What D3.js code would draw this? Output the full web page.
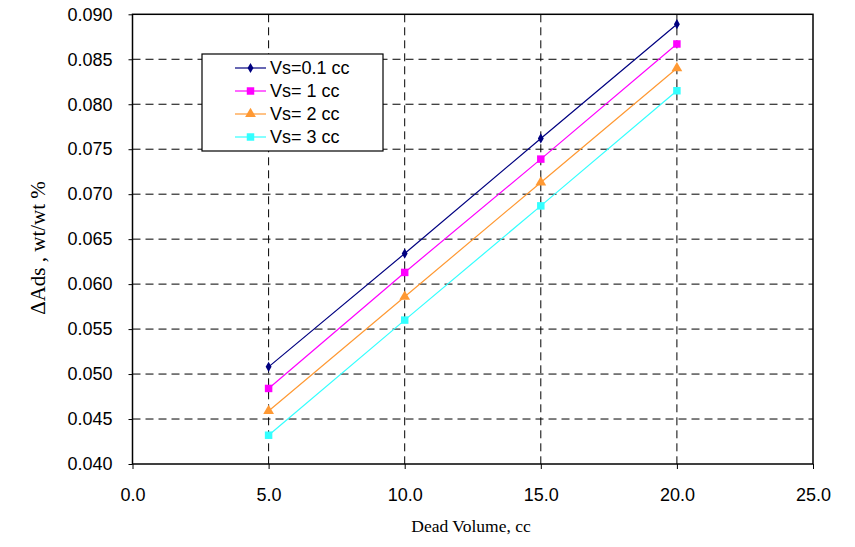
<!DOCTYPE html>
<html><head><meta charset="utf-8">
<script src="https://cdn.jsdelivr.net/npm/d3@7"></script>
<style>body{margin:0;background:#fff}svg{display:block}</style>
</head><body>
<svg id="c" width="855" height="547"></svg>
<script>
const deadVolume = [5, 10, 15, 20];
const seriesNames = ["Vs=0.1 cc", "Vs= 1 cc", "Vs= 2 cc", "Vs= 3 cc"];
const vs01 = [0.0508, 0.0634, 0.0762, 0.0889];
const vs1  = [0.0484, 0.0613, 0.0739, 0.0867];
const vs2  = [0.0459, 0.0586, 0.0713, 0.0840];
const vs3  = [0.0432, 0.0560, 0.0687, 0.0815];
const xTicks = [0, 5, 10, 15, 20, 25];
const yTicks = [0.040, 0.045, 0.050, 0.055, 0.060, 0.065, 0.070, 0.075, 0.080, 0.085, 0.090];

const colors = ["#000080", "#ff00ff", "#ff9933", "#33ffff"];
const symbols = [d3.symbolDiamond, d3.symbolSquare, d3.symbolTriangle, d3.symbolSquare];
const symSizes = [30, 56, 50, 56];
const series = [vs01, vs1, vs2, vs3];

const svg = d3.select("#c");
const L = 132.5, R = 813, T = 14.3, B = 464;
const x = d3.scaleLinear().domain([0, 25]).range([L, R]);
const y = d3.scaleLinear().domain([0.040, 0.090]).range([B, T]);
const sans = "Arial, 'Liberation Sans', sans-serif";
const serif = "'Times New Roman', 'Liberation Serif', serif";

// gridlines
const g = svg.append("g");
g.selectAll(".hg").data(yTicks.slice(1, -1)).enter().append("line")
  .attr("x1", L).attr("x2", R).attr("y1", d => y(d)).attr("y2", d => y(d))
  .attr("stroke", "#000").attr("stroke-width", 1).attr("stroke-dasharray", "8,5");
g.selectAll(".vg").data(xTicks.slice(1, -1)).enter().append("line")
  .attr("y1", T).attr("y2", B).attr("x1", d => x(d)).attr("x2", d => x(d))
  .attr("stroke", "#000").attr("stroke-width", 1).attr("stroke-dasharray", "8,5");

// axes
const yAxis = d3.axisLeft(y).tickValues(yTicks).tickFormat(d3.format(".3f")).tickSize(4).tickPadding(16);
const xAxis = d3.axisBottom(x).tickValues(xTicks).tickFormat(d3.format(".1f")).tickSize(5).tickPadding(19);
const ya = svg.append("g").attr("transform", `translate(${L},0)`).call(yAxis);
const xa = svg.append("g").attr("transform", `translate(0,${B})`).call(xAxis);
[ya, xa].forEach(a => {
  a.select(".domain").remove();
  a.selectAll("text").attr("font-family", sans).attr("font-size", 18).attr("fill", "#000");
  a.selectAll("line").attr("stroke", "#000");
});
// plot frame
svg.append("rect").attr("x", L).attr("y", T).attr("width", R - L).attr("height", B - T)
  .attr("fill", "none").attr("stroke", "#000").attr("stroke-width", 1.5);

// series
const line = d3.line().x((d, i) => x(deadVolume[i])).y(d => y(d));
series.forEach((s, k) => {
  svg.append("path").datum(s).attr("d", line).attr("fill", "none")
    .attr("stroke", colors[k]).attr("stroke-width", 1.2);
  svg.selectAll(".m" + k).data(s).enter().append("path")
    .attr("transform", (d, i) => `translate(${x(deadVolume[i])},${y(d)})`)
    .attr("d", d3.symbol().type(symbols[k]).size(symSizes[k]))
    .attr("fill", colors[k]);
});

// legend
const lg = svg.append("g");
lg.append("rect").attr("x", 202).attr("y", 54).attr("width", 181).attr("height", 97)
  .attr("fill", "#fff").attr("stroke", "#000").attr("stroke-width", 1.2);
seriesNames.forEach((n, k) => {
  const ly = 68 + k * 23;
  lg.append("line").attr("x1", 235).attr("x2", 266).attr("y1", ly).attr("y2", ly)
    .attr("stroke", colors[k]).attr("stroke-width", 1.2);
  lg.append("path").attr("transform", `translate(250.5,${ly})`)
    .attr("d", d3.symbol().type(symbols[k]).size(symSizes[k])).attr("fill", colors[k]);
  lg.append("text").attr("x", 270).attr("y", ly).attr("dy", "0.36em")
    .attr("font-family", sans).attr("font-size", 18).text(n);
});

// axis titles
svg.append("text").attr("x", 471).attr("y", 532).attr("text-anchor", "middle")
  .attr("font-family", serif).attr("font-size", 17.5)
  .text("Dead Volume, cc");
svg.append("text").attr("transform", "translate(45,248) rotate(-90)").attr("text-anchor", "middle")
  .attr("font-family", serif).attr("font-size", 21)
  .text("\u0394Ads , wt/wt %");
</script>
</body></html>
